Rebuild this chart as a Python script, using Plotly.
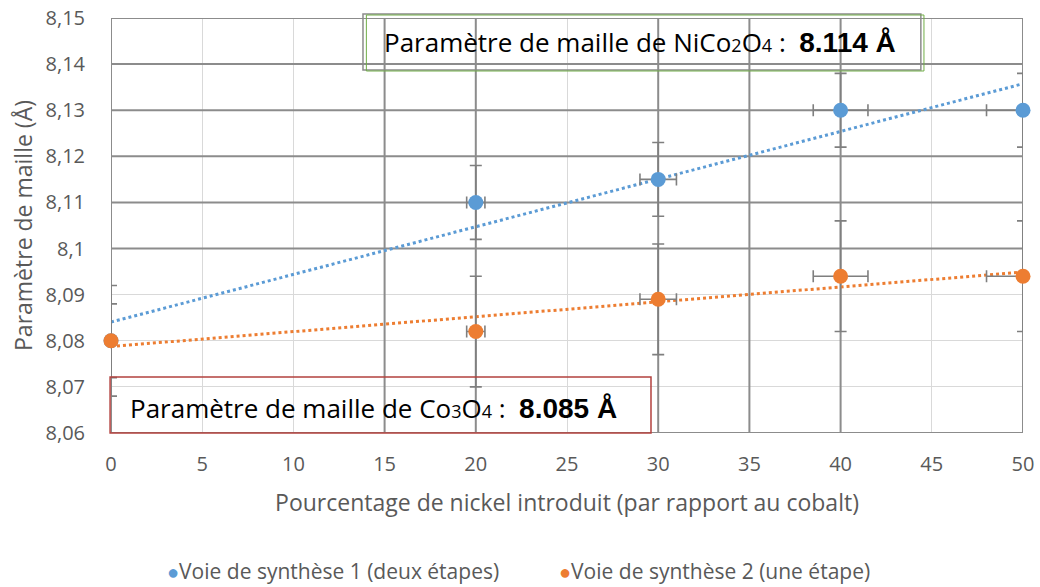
import numpy as np
import plotly.graph_objects as go

# Nickel content introduced (% relative to cobalt)
nickel_pct = [0, 20, 30, 40, 50]
x_err = [0, 0.5, 1, 1.5, 2]

# Route 1 (two steps) and route 2 (one step) lattice parameters, in Å
route1_a = [8.080, 8.110, 8.115, 8.130, 8.130]
route1_err = [0.008, 0.008, 0.008, 0.008, 0.008]
route2_a = [8.080, 8.082, 8.089, 8.094, 8.094]
route2_err = [0.012, 0.012, 0.012, 0.012, 0.012]

route1_name = "Voie de synthèse 1 (deux étapes)"
route2_name = "Voie de synthèse 2 (une étape)"

x_ticks = [0, 5, 10, 15, 20, 25, 30, 35, 40, 45, 50]
y_ticks = [8.06, 8.07, 8.08, 8.09, 8.10, 8.11, 8.12, 8.13, 8.14, 8.15]
y_tick_text = ["8,06", "8,07", "8,08", "8,09", "8,1", "8,11", "8,12", "8,13", "8,14", "8,15"]

# grid lines that are drawn heavier
heavy_x = [0, 15, 20, 30, 35, 40, 50]
heavy_y = [8.06, 8.10, 8.11, 8.12, 8.13, 8.14, 8.15]

BLUE = "#5b9bd5"
ORANGE = "#ed7d31"
ERR = "#7f7f7f"
TXT = "#595959"
FONT = "Open Sans"

fig = go.Figure()

# heavy grid lines as plain line traces under everything
for xv in heavy_x:
    fig.add_trace(go.Scatter(x=[xv, xv], y=[y_ticks[0], y_ticks[-1]], mode="lines",
                             line=dict(color="#8c8c8c", width=2), hoverinfo="skip",
                             showlegend=False, cliponaxis=False))
for yv in heavy_y:
    fig.add_trace(go.Scatter(x=[x_ticks[0], x_ticks[-1]], y=[yv, yv], mode="lines",
                             line=dict(color="#8c8c8c", width=2), hoverinfo="skip",
                             showlegend=False, cliponaxis=False))

# linear trend lines fitted on each series
x_ends = np.array([x_ticks[0], x_ticks[-1]])
for ys, col in [(route1_a, BLUE), (route2_a, ORANGE)]:
    slope, icpt = np.polyfit(nickel_pct, ys, 1)
    fig.add_trace(go.Scatter(x=x_ends, y=slope * x_ends + icpt, mode="lines",
                             line=dict(color=col, width=3, dash="dot"),
                             hoverinfo="skip", showlegend=False))

for ys, es, col, name in [(route1_a, route1_err, BLUE, route1_name),
                          (route2_a, route2_err, ORANGE, route2_name)]:
    fig.add_trace(go.Scatter(
        x=nickel_pct, y=ys, mode="markers", name=name,
        marker=dict(color=col, size=15, line=dict(width=0)),
        error_y=dict(type="data", array=es, color=ERR, thickness=1.6, width=6),
        error_x=dict(type="data", array=x_err, color=ERR, thickness=1.6, width=6),
        showlegend=False, cliponaxis=False))

# boxes around the reference values
fig.add_shape(type="rect", xref="paper", yref="paper", x0=0.2763, x1=0.8880,
              y0=0.8747, y1=1.0096, line=dict(color="#8c8c8c", width=1.5))
fig.add_shape(type="rect", xref="paper", yref="paper", x0=0.2800, x1=0.8914,
              y0=0.8723, y1=1.0072, line=dict(color="#70ad47", width=1))
fig.add_shape(type="rect", xref="paper", yref="paper", x0=-0.001, x1=0.5921,
              y0=0.0, y1=0.1349, line=dict(color="#b3413e", width=1.5))

bold = "font-family:Liberation Sans;font-size:28px"
small = "font-size:18px"
fig.add_annotation(
    xref="paper", yref="paper", x=0.2972, y=0.9422, xanchor="left", yanchor="middle",
    showarrow=False, font=dict(family=FONT, size=26, color="#000"),
    text=("Paramètre de maille de NiCo<span style=\"%s\">2</span>O<span style=\"%s\">4</span> :  "
          "<b style=\"%s\">8.114 Å</b>") % (small, small, bold))
fig.add_annotation(
    xref="paper", yref="paper", x=0.0190, y=0.0602, xanchor="left", yanchor="middle",
    showarrow=False, font=dict(family=FONT, size=26, color="#000"),
    text=("Paramètre de maille de Co<span style=\"%s\">3</span>O<span style=\"%s\">4</span> :  "
          "<b style=\"%s\">8.085 Å</b>") % (small, small, bold))

# legend entries
for px, col, name in [(0.0590, BLUE, route1_name), (0.4895, ORANGE, route2_name)]:
    fig.add_annotation(
        xref="paper", yref="paper", x=px, y=-0.333, xanchor="left", yanchor="middle",
        showarrow=False, font=dict(family=FONT, size=21, color=TXT),
        text="<span style=\"color:%s;font-size:20px\">●</span>%s" % (col, name))

fig.update_xaxes(range=[0, 50], tickvals=x_ticks, ticks="", showline=False,
                 gridcolor="#d9d9d9", gridwidth=1, zeroline=False, automargin=False,
                 ticklabelstandoff=17,
                 tickfont=dict(family=FONT, size=20, color=TXT),
                 title=dict(text="Pourcentage de nickel introduit (par rapport au cobalt)",
                            font=dict(family=FONT, size=23, color=TXT), standoff=18))
fig.update_yaxes(range=[8.06, 8.15], tickvals=y_ticks, ticktext=y_tick_text, ticks="",
                 showline=False, gridcolor="#d9d9d9", gridwidth=1, zeroline=False,
                 automargin=False, ticklabelstandoff=25,
                 tickfont=dict(family=FONT, size=20, color=TXT),
                 title=dict(text="Paramètre de maille (Å)",
                            font=dict(family=FONT, size=23, color=TXT), standoff=6))

fig.update_layout(width=1040, height=587, margin=dict(l=111, r=17, t=18, b=154),
                  paper_bgcolor="white", plot_bgcolor="white", showlegend=False)

fig.write_html("out.html")
